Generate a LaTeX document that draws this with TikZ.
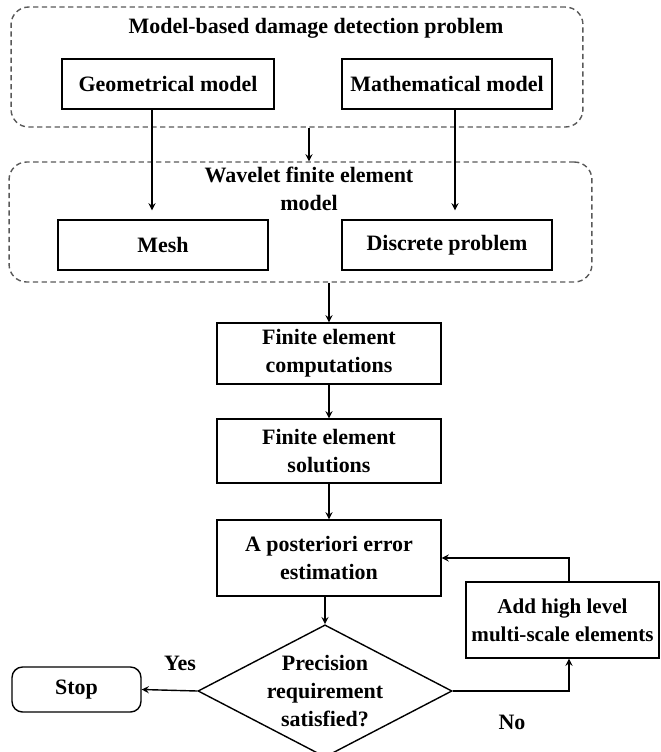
\documentclass[tikz,border=0pt]{standalone}
\usepackage{fontspec}
\setmainfont{Liberation Serif}
\usetikzlibrary{shapes.geometric}
\begin{document}
\begin{tikzpicture}[x=0.02cm, y=-0.02cm, >=stealth, line width=0.8pt,
		every node/.style={font=\bfseries\fontsize{12.5}{16}\selectfont, align=center},
		box/.style={draw, inner sep=2pt},
		group/.style={draw=black!65, dash pattern=on 3pt off 2pt, rounded corners=10pt}]
				\useasboundingbox (0,0) rectangle (661,752);
				% 1. 两个虚线分组框及其标题
				\node[group, minimum width=11.44cm, minimum height=2.4cm] (detect) at (297,67) {};
				\node (detecttitle) at (316,28) {Model-based damage detection problem};
				\node[group, minimum width=11.66cm, minimum height=2.4cm] (wavelet) at (300.5,222) {};
				\node (wavetitle) at (309,189) {Wavelet finite element\\model};
				
				% 2. 分组内的矩形框
				\node[box, minimum width=4.24cm, minimum height=1cm] (geom) at (168,84) {Geometrical model};
				\node[box, minimum width=4.2cm, minimum height=1cm] (math) at (447,84) {Mathematical model};
				\node[box, minimum width=4.2cm, minimum height=1cm] (mesh) at (163,245) {Mesh};
				\node[box, minimum width=4.2cm, minimum height=1cm] (discrete) at (447,245) {Discrete problem};
				
				% 3. 主流程
				\node[box, minimum width=4.48cm, minimum height=1.22cm] (fecomp) at (329,353.5) {Finite element\\computations};
				\node[box, minimum width=4.48cm, minimum height=1.28cm] (fesol) at (329,451) {Finite element\\solutions};
				\node[box, minimum width=4.48cm, minimum height=1.52cm] (esti) at (329,558) {A posteriori error\\estimation};
				\node[draw, diamond, aspect=1.92, inner sep=0pt] (check) at (325,691) {Precision\\requirement\\satisfied?};
				\node[box, rounded corners=6pt, minimum width=2.58cm, minimum height=0.9cm] (stop) at (76.5,689.5) {Stop};
				\node[box, minimum width=3.86cm, minimum height=1.52cm, font=\bfseries\fontsize{12}{16}\selectfont] (refine) at (562.5,620) {Add high level\\multi-scale elements};
				\node (yes) at (180,663) {Yes};
				\node (no) at (512,722) {No};
				
				% 4. 箭头
				\draw[->] ([xshift=-0.32cm]geom.south) -- ([xshift=-0.32cm, yshift=0.18cm]geom.south |- mesh.north);
				\draw[->] ([xshift=0.16cm]math.south) -- ([xshift=0.16cm, yshift=0.18cm]math.south |- discrete.north);
				\draw[->] (detect.south -| wavetitle.north) -- (wavelet.north -| wavetitle.north);
				\draw[->] (wavelet.south -| fecomp.north) -- (fecomp.north);
				\draw[->] (fecomp) -- (fesol);
				\draw[->] (fesol) -- (esti);
				\draw[->] (esti.south -| check.north) -- (check.north);
				\draw[->] (check.west) -- (stop.east);
				\draw[->] (check.east) -| ([xshift=0.13cm]refine.south);
				\draw[->] ([xshift=0.13cm]refine.north) |- (esti.east);
			\end{tikzpicture}
\end{document}
